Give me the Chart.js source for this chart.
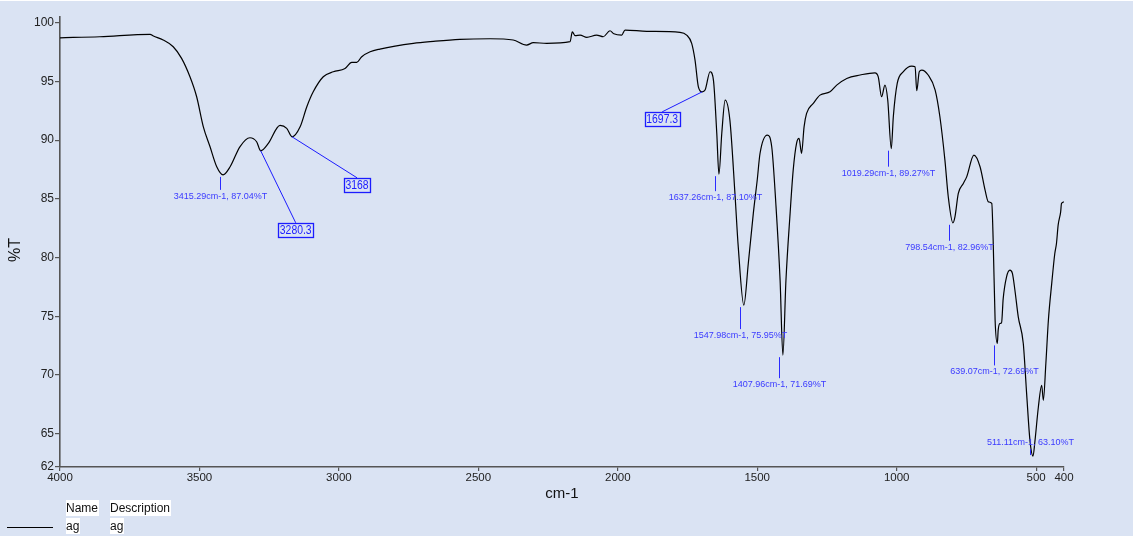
<!DOCTYPE html>
<html>
<head>
<meta charset="utf-8">
<title>ag — IR spectrum</title>
<script src="https://cdn.jsdelivr.net/npm/chart.js@4/dist/chart.umd.min.js"></script>
<style>
  html, body { margin: 0; padding: 0; background: #ffffff; }
  #wrap { position: relative; width: 1133px; height: 536px; }
  canvas { display: block; }
</style>
</head>
<body>
<div id="wrap"><canvas id="spectrum" width="1133" height="536"></canvas></div>
<script>
// Wavenumber (cm-1) and transmittance (%T) of sample "ag"
const wavenumber = [
  4000, 3857, 3677, 3665, 3630, 3594, 3564, 3534, 3510, 3486,
  3462, 3438, 3415.29, 3390, 3355, 3319, 3295, 3280.3, 3253, 3211,
  3187, 3168, 3139, 3115, 3092, 3056, 3020, 2978, 2954, 2936,
  2918, 2888, 2853, 2733, 2661, 2566, 2458, 2375, 2327, 2303,
  2255, 2171, 2163, 2153, 2135, 2111, 2076, 2052, 2028, 2014,
  1986, 1974, 1896, 1777, 1753, 1735, 1723, 1711, 1697.3, 1687,
  1669, 1657, 1645, 1637.26, 1627, 1615, 1598, 1580, 1568, 1547.98,
  1532, 1514, 1500, 1490, 1464, 1448, 1433, 1418, 1407.96, 1397,
  1382, 1371, 1359, 1350, 1341, 1332, 1323, 1299, 1275, 1239,
  1215, 1179, 1131, 1078, 1066, 1054, 1042, 1032, 1019.29, 1012,
  998, 976, 946, 934, 928, 919, 910, 887, 862, 845,
  827, 815, 798.54, 791, 779, 761, 749, 723, 701, 683,
  671, 659, 654, 647, 639.07, 636, 630, 624, 618, 606,
  594, 585, 576, 564, 546, 534, 522, 511.11, 504, 492,
  480, 474, 465, 456, 444, 433, 427, 421, 412, 409,
  400
];
const transmittance = [
  98.71, 98.80, 99.00, 98.86, 98.52, 97.95, 96.96, 95.39, 93.69, 91.13,
  89.43, 87.73, 87.04, 87.73, 89.43, 90.20, 89.86, 89.09, 89.72, 91.25,
  91.00, 90.28, 91.13, 92.84, 94.11, 95.39, 95.82, 96.10, 96.62, 96.62,
  97.10, 97.52, 97.75, 98.24, 98.41, 98.58, 98.63, 98.52, 98.09, 98.29,
  98.24, 98.38, 99.22, 98.90, 98.94, 98.75, 98.94, 98.80, 99.31, 99.05,
  98.94, 99.37, 99.26, 99.17, 98.94, 98.24, 96.81, 94.54, 94.11, 94.26,
  95.82, 95.11, 90.57, 87.10, 90.60, 93.41, 91.70, 85.50, 80.91, 75.95,
  79.50, 83.76, 86.60, 88.86, 90.43, 89.43, 84.50, 78.07, 71.69, 78.07,
  83.80, 87.44, 89.72, 90.14, 88.87, 91.13, 92.27, 93.12, 93.83, 94.11,
  94.68, 95.25, 95.54, 95.73, 95.39, 93.69, 94.68, 93.41, 89.27, 91.99,
  94.82, 95.82, 96.30, 96.25, 94.20, 95.82, 95.96, 95.54, 94.26, 91.99,
  88.30, 85.18, 82.96, 83.47, 85.46, 86.31, 86.87, 88.72, 87.73, 85.74,
  84.74, 84.61, 81.48, 74.67, 72.69, 73.82, 74.39, 74.44, 76.50, 78.36,
  78.93, 78.65, 77.22, 74.95, 72.68, 68.42, 64.42, 63.10, 64.42, 67.26,
  69.13, 67.85, 71.00, 74.67, 77.80, 80.35, 81.20, 82.76, 83.89, 84.60,
  84.74
];

// Labelled minima (wavenumber, %T)
const peakWn = [3415.29, 1637.26, 1547.98, 1407.96, 1019.29, 798.54, 639.07, 511.11];
const peakT  = [87.04, 87.10, 75.95, 71.69, 89.27, 82.96, 72.69, 63.10];

// Minima tagged with a boxed wavenumber
const boxWn = [3280.3, 3168, 1697.3];
const boxT  = [89.09, 90.28, 94.11];

// Axis ticks
const xTicks = [4000, 3500, 3000, 2500, 2000, 1500, 1000, 500, 400];
const yTicks = [62, 65, 70, 75, 80, 85, 90, 95, 100];

// Legend table
const legendHead = ['Name', 'Description'];
const legendRow  = ['ag', 'ag'];

// ---- layout / styling ----
const Y_MIN = 62.17, Y_MAX = 100.48;
const BG = 'rgb(218,227,243)';
const FONT = '"Liberation Sans", Arial, Helvetica, sans-serif';
const peakTickLen = [13, 15, 22, 21, 16, 16, 20, -6];   // negative: marker above the minimum
const boxOffset = [[35, 79], [65, 48], [-40, 27]];       // box centre relative to the minimum

const background = {
  id: 'background',
  beforeDraw(chart) {
    const { ctx, width, height } = chart;
    ctx.save();
    ctx.fillStyle = BG;
    ctx.fillRect(0, 0, width, height);
    ctx.fillStyle = '#ffffff';
    ctx.fillRect(0, 0, width, 1);
    ctx.restore();
  }
};

const notes = {
  id: 'notes',
  afterDatasetsDraw(chart) {
    const { ctx, scales: { x, y } } = chart;
    ctx.save();

    // minima with value labels
    ctx.font = '9px ' + FONT;
    ctx.textAlign = 'center';
    ctx.textBaseline = 'middle';
    peakWn.forEach((w, i) => {
      const px = Math.round(x.getPixelForValue(w) - 3.5) + 0.5;
      const py = y.getPixelForValue(peakT[i]);
      const len = peakTickLen[i];
      let y0, y1, ty;
      if (len > 0) { y0 = py + 2; y1 = y0 + len; ty = y1 + 6.5; }
      else { y0 = py - 1; y1 = y0 + len; ty = y1 - 6.5; }
      ctx.strokeStyle = '#2b2bff';
      ctx.lineWidth = 1;
      ctx.beginPath(); ctx.moveTo(px, y0); ctx.lineTo(px, y1); ctx.stroke();
      ctx.fillStyle = '#3a3aff';
      ctx.fillText(w.toFixed(2) + 'cm-1, ' + peakT[i].toFixed(2) + '%T', px, ty);
    });

    // boxed wavenumbers with leader lines
    ctx.font = '13px ' + FONT;
    const sx = 0.8;
    boxWn.forEach((w, i) => {
      const px = x.getPixelForValue(w);
      const py = y.getPixelForValue(boxT[i]);
      const label = String(w);
      const bw = ctx.measureText(label).width * sx + 3;
      const bh = 14;
      const cx = px + boxOffset[i][0], cy = py + boxOffset[i][1];
      ctx.strokeStyle = '#1c1cff';
      ctx.lineWidth = 1;
      ctx.beginPath(); ctx.moveTo(px, py); ctx.lineTo(cx, cy - bh / 2); ctx.stroke();
      ctx.lineWidth = 1.3;
      ctx.strokeRect(Math.round(cx - bw / 2) + 0.5, Math.round(cy - bh / 2) + 0.5, Math.round(bw), bh);
      ctx.fillStyle = '#2020ff';
      ctx.save();
      ctx.translate(cx, cy + 1);
      ctx.scale(sx, 1);
      ctx.fillText(label, 0, 0);
      ctx.restore();
    });
    ctx.restore();
  },
  afterDraw(chart) {
    const { ctx } = chart;
    ctx.save();
    // axis titles
    ctx.fillStyle = '#111';
    ctx.textAlign = 'center';
    ctx.textBaseline = 'middle';
    ctx.font = '15px ' + FONT;
    ctx.fillText('cm-1', 562, 494);
    ctx.save();
    ctx.translate(16, 250);
    ctx.rotate(-Math.PI / 2);
    ctx.font = '16px ' + FONT;
    ctx.fillText('%T', 0, 0);
    ctx.restore();

    // legend table
    ctx.font = '12px ' + FONT;
    ctx.textAlign = 'left';
    const cols = [66, 110];
    const drawCell = (txt, left, top, h) => {
      const w = ctx.measureText(txt).width;
      ctx.fillStyle = '#ffffff';
      ctx.fillRect(left, top, Math.ceil(w), h);
      ctx.fillStyle = '#111';
      ctx.fillText(txt, left, top + h / 2 + 0.5);
    };
    legendHead.forEach((t, i) => drawCell(t, cols[i], 500, 16));
    legendRow.forEach((t, i) => drawCell(t, cols[i], 518, 16));
    ctx.strokeStyle = '#000';
    ctx.lineWidth = 1;
    ctx.beginPath(); ctx.moveTo(7, 527.5); ctx.lineTo(53, 527.5); ctx.stroke();
    ctx.restore();
  }
};

new Chart(document.getElementById('spectrum'), {
  type: 'line',
  data: {
    datasets: [{
      label: 'ag',
      data: wavenumber.map((w, i) => ({ x: w, y: transmittance[i] })),
      borderColor: '#000000',
      borderWidth: 1.2,
      pointRadius: 0,
      cubicInterpolationMode: 'monotone',
      fill: false
    }]
  },
  options: {
    responsive: false,
    animation: false,
    events: [],
    layout: { padding: { top: 17, right: 69, left: 0, bottom: 0 } },
    plugins: { legend: { display: false }, tooltip: { enabled: false } },
    scales: {
      x: {
        type: 'linear',
        reverse: true,
        min: 400,
        max: 4000,
        afterFit(s) { s.height = 69; },
        afterBuildTicks(s) { s.ticks = xTicks.map(v => ({ value: v })); },
        grid: { drawOnChartArea: false, drawTicks: true, tickLength: 4, color: '#555', lineWidth: 1.2 },
        border: { display: true, color: '#555', width: 1.6 },
        ticks: {
          autoSkip: false, maxRotation: 0, padding: 0,
          color: '#222', font: { family: FONT, size: 11.5 },
          callback: v => String(v)
        }
      },
      y: {
        type: 'linear',
        min: Y_MIN,
        max: Y_MAX,
        afterFit(s) { s.width = 60; },
        afterBuildTicks(s) {
          s.ticks = yTicks.map(v => ({ value: Math.min(Math.max(v, Y_MIN), Y_MAX) }));
        },
        grid: { drawOnChartArea: false, drawTicks: true, tickLength: 5, color: '#555', lineWidth: 1.2 },
        border: { display: true, color: '#555', width: 1.6 },
        ticks: {
          autoSkip: false, padding: 1,
          color: '#222', font: { family: FONT, size: 12 },
          callback: v => String(Math.round(v))
        }
      }
    }
  },
  plugins: [background, notes]
});
</script>
</body>
</html>
